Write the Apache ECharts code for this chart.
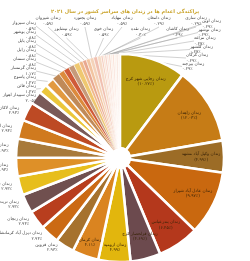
<!DOCTYPE html>
<html><head><meta charset="utf-8">
<script src="https://cdn.jsdelivr.net/npm/echarts@6/dist/echarts.min.js"></script>
<style>html,body{margin:0;padding:0;background:#fff}#c{width:250px;height:261px}</style>
</head><body><div id="c"></div>
<script>
const titleText = 'پراکندگی اعدام ها در زندان های سراسر کشور در سال ۲۰۲۱';
const prisons = [
 'زندان رجایی شهر کرج','زندان زاهدان','زندان وکیل آباد مشهد','زندان عادل آباد شیراز','زندان بندرعباس','زندان قزلحصار کرج',
 'زندان ارومیه','زندان کرمان','زندان قزوین','زندان دیزل آباد کرمانشاه','زندان زنجان','زندان تربت جام','زندان قائمشهر','زندان قم',
 'زندان یزد','زندان اردبیل','زندان لاکان رشت',
 'زندان سپیدار اهواز','زندان قائن','زندان یاسوج','زندان گرمسار','زندان سمنان','زندان زابل','زندان بابل','زندان بوشهر','زندان سبزوار',
 'زندان شیروان','زندان نیشابور','زندان بجنورد','زندان خوی','زندان مهاباد','زندان نقده','زندان دامغان','زندان کاشان',
 'زندان ساری','زندان اوین','زندان نوشهر','زندان مراغه','زندان گلشهر','زندان گرگان','زندان بیرجند'
];
const executions = [
 35,41,17,34,22,16,
 17,14,10,10,10,10,10,10,10,10,10,
 7,5,5,4,3,3,3,3,2,2,2,2,2,2,1,1,1,1,1,1,1,1,1,1
];
const palette = [
 '#B99A10','#C67C16','#9C6C26','#C9680F','#B4381C','#6C4A4E',
 '#E2B60D','#DA8420','#A6722E','#CB6A14','#B83E1E','#70504F','#E7BE1C','#DE9028','#A87A3A','#D07A1E','#BD4A24',
 '#7A5A58','#EBC63A','#E29A40','#C08A58','#DC8A3C','#D05A38','#C69A7A','#EFC870','#F0B888','#E8A890','#F2C4A0','#F4D2B8',
 '#F0BFB0','#F6DCC8','#F3C8B8','#F8E2D2','#F5D0C4','#FAE8DC','#F7D8CC','#FBEEE4','#F9E0D6','#FCF2EA',
 '#F8E4DA','#FDF4EE'
];
const CX = 120, CY = 158, R = 104;
const INSIDE_COUNT = 8;     // labels drawn inside the slice
const FIRST_FANNED = 17;    // labels fanned out around the top
const fa = s => String(s).replace(/[0-9]/g, d => '۰۱۲۳۴۵۶۷۸۹'[d]);
const N = executions.length;
const total = executions.reduce((a, b) => a + b, 0);
const cum = []; executions.reduce((a, v, i) => (cum[i] = a + v / 2, a + v), 0);

const data = prisons.map((n, i) => ({
  name: n, value: executions[i],
  itemStyle: {borderColor: '#fff', borderWidth: executions[i] >= 5 ? 2.6 : 0.5},
  label: i < INSIDE_COUNT ? {position: 'inside', color: '#3a2408'} : undefined,
  labelLine: {show: i >= FIRST_FANNED}
}));

// slots for fanned labels: left column (bottom->top), top row (left->right), right column (top->bottom)
const nFan = N - FIRST_FANNED;
const nLeft = 9, nRight = 6, nTop = nFan - nLeft - nRight;
function fanSlot(k) {
  if (k < nLeft) return {x: 36, y: 98 - k * 9, align: 'right'};
  k -= nLeft;
  if (k < nTop) return {x: 48 + k * (148 / (nTop - 1)), y: k % 2 ? 32 : 21, align: 'center'};
  k -= nTop;
  return {x: 202 - k * 4, y: 24 + k * 8.5, align: 'left'};
}

const chart = echarts.init(document.getElementById('c'), null, {renderer: 'canvas'});
chart.setOption({
  animation: false,
  color: palette,
  title: {text: titleText, left: 'center', top: 4,
    textStyle: {color: '#C9A227', fontSize: 5, fontWeight: 'bold', fontFamily: 'DejaVu Sans'}},
  series: [{
    type: 'pie',
    center: [CX, CY],
    radius: [10, R],
    startAngle: 90,
    clockwise: true,
    avoidLabelOverlap: false,
    minShowLabelAngle: 0,
    data: data,
    label: {
      show: true, fontSize: 4.3, color: '#444', fontFamily: 'DejaVu Sans', lineHeight: 5.3,
      formatter: p => p.dataIndex < 6
        ? p.name + '\n(' + fa(p.percent.toFixed(2)) + '٪)'
        : p.name + '\n' + fa(p.percent.toFixed(2)) + '٪'
    },
    labelLine: {length: 2, length2: 1, lineStyle: {color: '#999', width: 0.45}},
    labelLayout: function (p) {
      const i = p.dataIndex;
      if (i < INSIDE_COUNT) {
        const th = cum[i] / total * 2 * Math.PI;
        const r = R * (i < 6 ? 0.78 : 0.86);
        return {x: CX + r * Math.sin(th), y: CY - r * Math.cos(th), align: 'center', verticalAlign: 'middle'};
      }
      if (i < FIRST_FANNED) return {};
      const s = fanSlot(i - FIRST_FANNED);
      const pts = p.labelLinePoints;
      const start = pts ? pts[0] : [CX, CY - R];
      const end = [s.x, s.align === 'center' ? s.y + 6 : s.y];
      return {x: s.x, y: s.y, align: s.align, verticalAlign: 'middle',
        labelLinePoints: [start, end, end]};
    }
  }]
});
</script></body></html>
